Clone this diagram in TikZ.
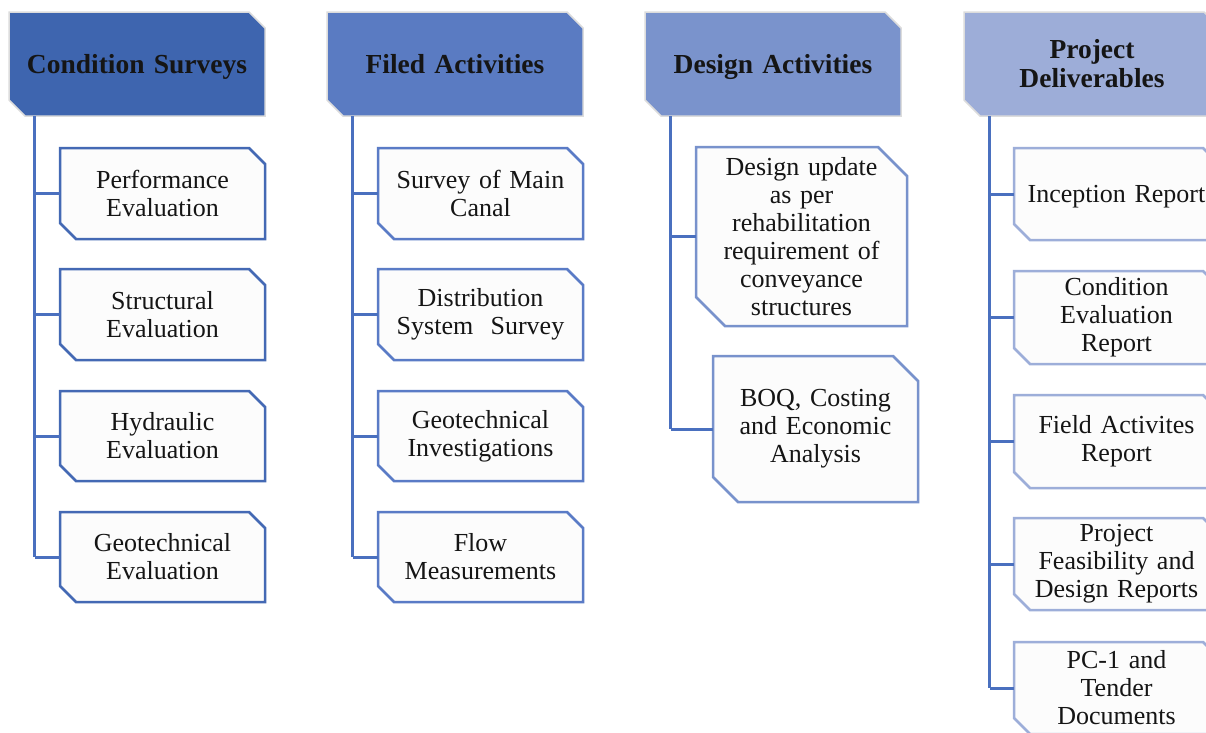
\documentclass[tikz,border=0pt]{standalone}
\usepackage{fontspec}
\setmainfont{Liberation Serif}
\usetikzlibrary{calc}
\definecolor{hA}{HTML}{3E65AF}
\definecolor{hB}{HTML}{5A7BC2}
\definecolor{hC}{HTML}{7A93CC}
\definecolor{hD}{HTML}{9DADD8}
\definecolor{bA}{HTML}{4469B4}
\definecolor{bB}{HTML}{5A7BC6}
\definecolor{bC}{HTML}{7892CC}
\definecolor{bD}{HTML}{9DAED9}
\definecolor{connc}{HTML}{4A70BF}
\definecolor{txt}{HTML}{151515}
\definecolor{hedge}{HTML}{DCDCDC}
\definecolor{cfill}{HTML}{FCFCFC}
\newcommand\snipbox[9]{%
  \pgfmathsetmacro\sbW{#4-#2}%
  \pgfmathsetmacro\sbH{#5-#3}%
  \pgfmathsetmacro\sbT{#4-#2-12}%
  \path[#7] (#2,#3) -- ({#4-#6},#3) -- (#4,{#3+#6}) -- (#4,#5) -- ({#2+#6},#5) -- (#2,{#5-#6}) -- cycle;
  \node[#8, minimum width=\sbW pt, minimum height=\sbH pt, text width=\sbT pt] (#1) at ({(#2+#4)/2},{(#3+#5)/2}) {#9};%
}
\newcommand\lowr[1]{\raisebox{-3pt}[\height][\depth]{#1}}
\tikzset{
  hdtext/.style={rectangle, inner sep=0pt, align=center, text=txt, font=\fontsize{27.5}{29}\selectfont\bfseries},
  chtext/.style={rectangle, inner sep=0pt, align=center, text=txt, font=\fontsize{26}{28}\selectfont},
  hdA/.style={fill=hA, draw=hedge, line width=1.5pt},
  hdB/.style={fill=hB, draw=hedge, line width=1.5pt},
  hdC/.style={fill=hC, draw=hedge, line width=1.5pt},
  hdD/.style={fill=hD, draw=hedge, line width=1.5pt},
  chA/.style={fill=cfill, draw=bA, line width=2.5pt, line join=miter},
  chB/.style={fill=cfill, draw=bB, line width=2.5pt, line join=miter},
  chC/.style={fill=cfill, draw=bC, line width=2.5pt, line join=miter},
  chD/.style={fill=cfill, draw=bD, line width=2.5pt, line join=miter},
  conn/.style={draw=connc, line width=3pt}
}
\begin{document}
\begin{tikzpicture}[x=1pt, y=-1pt]
\clip (0,0) rectangle (1206,732);
\fill[white] (0,0) rectangle (1206,732);
% headers
\snipbox{h1}{9}{12}{265}{116}{16}{hdA}{hdtext}{\lowr{Condition Surveys}}
\snipbox{h2}{327}{12}{583}{116}{16}{hdB}{hdtext}{Filed Activities}
\snipbox{h3}{645}{12}{901}{116}{16}{hdC}{hdtext}{\lowr{Design Activities}}
\snipbox{h4}{964}{12}{1220}{116}{16}{hdD}{hdtext}{Project\\Deliverables}
% column 1
\snipbox{c11}{60}{148}{265}{239}{16}{chA}{chtext}{Performance\\Evaluation}
\snipbox{c12}{60}{269}{265}{360}{16}{chA}{chtext}{Structural\\Evaluation}
\snipbox{c13}{60}{391}{265}{481}{16}{chA}{chtext}{Hydraulic\\Evaluation}
\snipbox{c14}{60}{512}{265}{602}{16}{chA}{chtext}{Geotechnical\\Evaluation}
% column 2
\snipbox{c21}{378}{148}{583}{239}{16}{chB}{chtext}{Survey of Main\\Canal}
\snipbox{c22}{378}{269}{583}{360}{16}{chB}{chtext}{Distribution\\System\ \ Survey}
\snipbox{c23}{378}{391}{583}{481}{16}{chB}{chtext}{Geotechnical\\Investigations}
\snipbox{c24}{378}{512}{583}{602}{16}{chB}{chtext}{Flow\\Measurements}
% column 3
\snipbox{c31}{696}{147}{907}{326}{29}{chC}{chtext}{Design update\\as per\\rehabilitation\\requirement of\\conveyance\\structures}
\snipbox{c32}{713}{356}{918}{502}{25}{chC}{chtext}{BOQ, Costing\\and Economic\\Analysis}
% column 4
\snipbox{c41}{1014}{148}{1219}{240}{16}{chD}{chtext}{\lowr{Inception Report}}
\snipbox{c42}{1014}{271}{1219}{364}{16}{chD}{chtext}{Condition\\Evaluation\\Report}
\snipbox{c43}{1014}{395}{1219}{488}{16}{chD}{chtext}{Field Activites\\Report}
\snipbox{c44}{1014}{518}{1219}{610}{16}{chD}{chtext}{Project\\Feasibility and\\Design Reports}
\snipbox{c45}{1014}{642}{1219}{734}{16}{chD}{chtext}{PC-1 and\\Tender\\Documents}
% connectors
\coordinate (v1) at ([xshift=26pt]h1.south west);
\coordinate (v2) at ([xshift=26pt]h2.south west);
\coordinate (v3) at ([xshift=26pt]h3.south west);
\coordinate (v4) at ([xshift=26pt]h4.south west);
\draw[conn] (v1) -- (v1 |- c14.west);
\foreach \c in {c11,c12,c13,c14} {\draw[conn] (v1 |- \c.west) -- (\c.west);}
\draw[conn] (v2) -- (v2 |- c24.west);
\foreach \c in {c21,c22,c23,c24} {\draw[conn] (v2 |- \c.west) -- (\c.west);}
\draw[conn] (v3) -- (v3 |- c32.west);
\foreach \c in {c31,c32} {\draw[conn] (v3 |- \c.west) -- (\c.west);}
\draw[conn] (v4) -- (v4 |- c45.west);
\foreach \c in {c41,c42,c43,c44,c45} {\draw[conn] (v4 |- \c.west) -- (\c.west);}
\end{tikzpicture}
\end{document}
